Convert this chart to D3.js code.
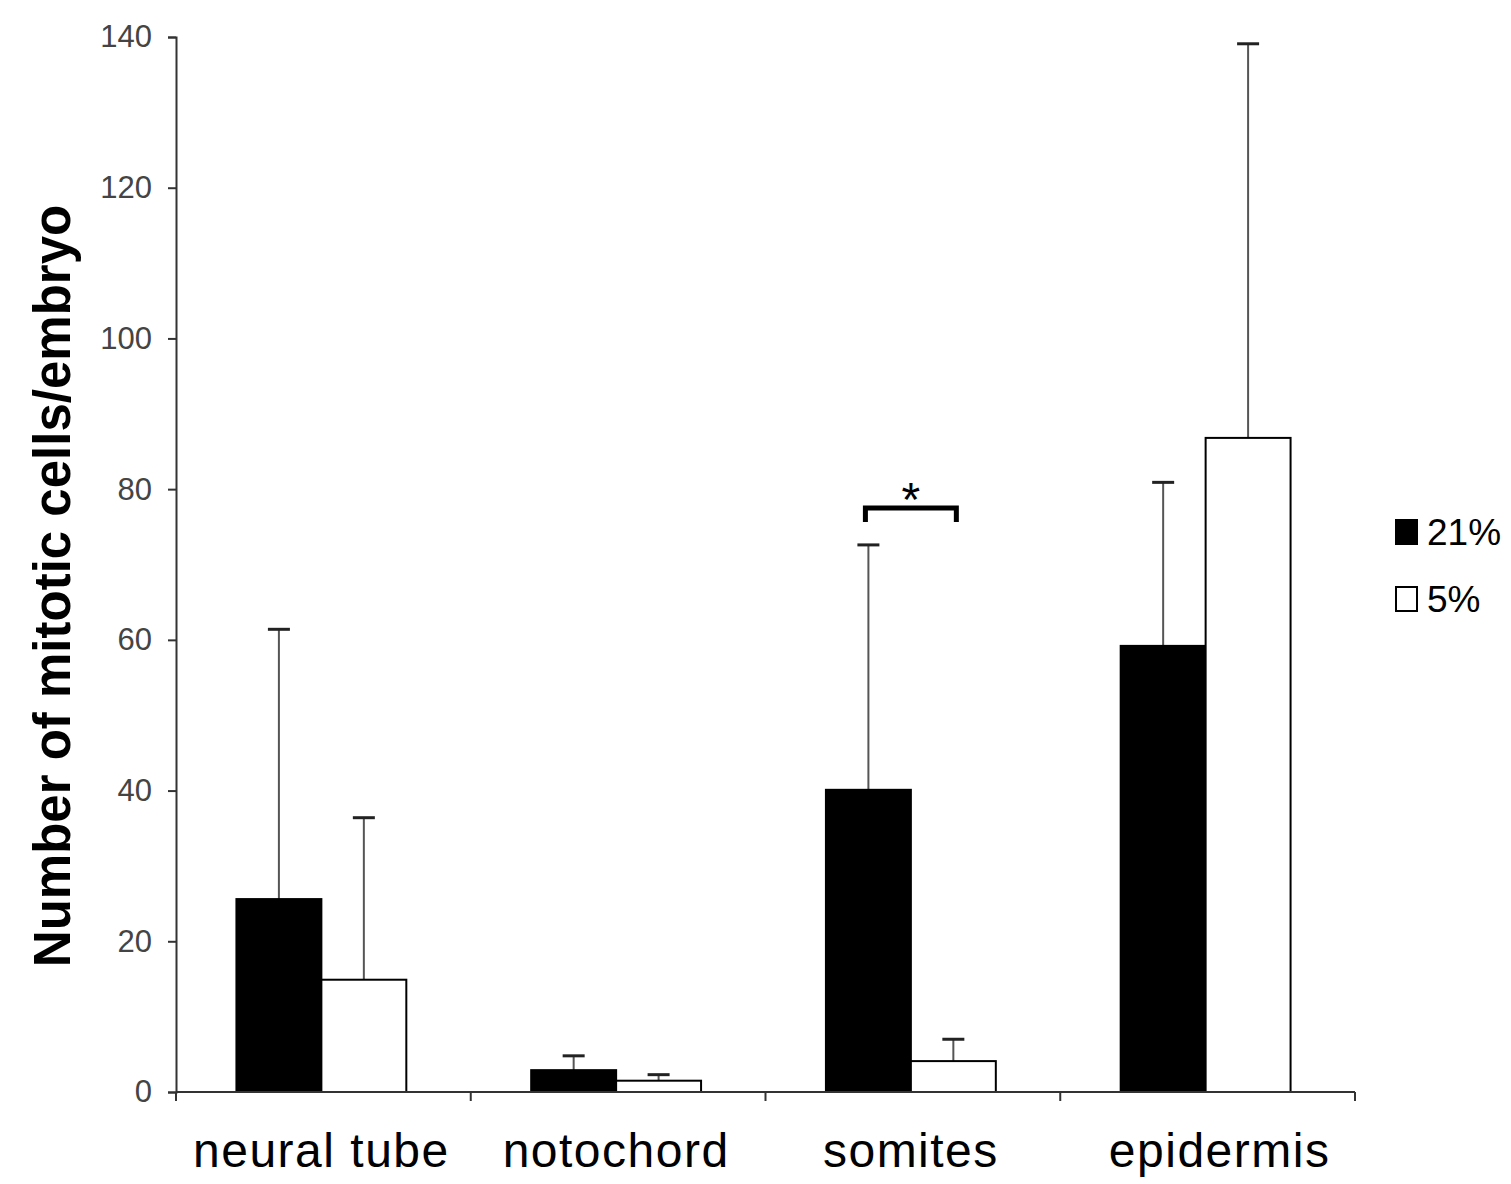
<!DOCTYPE html>
<html><head><meta charset="utf-8">
<script src="https://cdn.jsdelivr.net/npm/d3@7"></script>
<style>body{margin:0;background:#fff}svg{display:block}</style>
</head><body>
<script>
const categories = ["neural tube", "notochord", "somites", "epidermis"];
const seriesNames = ["21%", "5%"];
const mean21 = [25.6, 2.9, 40.1, 59.2];
const err21 = [61.4, 4.8, 72.6, 80.9];
const mean5 = [14.9, 1.5, 4.1, 86.8];
const err5 = [36.4, 2.3, 7.0, 139.1];
const yTicks = [0, 20, 40, 60, 80, 100, 120, 140];

const W = 1511, H = 1184;
const svg = d3.select("body").append("svg").attr("width", W).attr("height", H);
const x0 = 176, x1 = 1355, yTop = 37, yBot = 1092;

const x = d3.scaleBand().domain(categories).range([x0, x1]).paddingInner(0).paddingOuter(0);
const y = d3.scaleLinear().domain([0, 140]).range([yBot, yTop]);
const inner = d3.scaleBand().domain(seriesNames).range([-2, x.bandwidth() - 2]).paddingInner(0).paddingOuter(0.735);

const data = [];
categories.forEach((c, i) => {
  data.push({c, s: "21%", v: mean21[i], e: err21[i]});
  data.push({c, s: "5%", v: mean5[i], e: err5[i]});
});

// error bars
const eg = svg.append("g");
data.forEach(d => {
  const cx = x(d.c) + inner(d.s) + inner.bandwidth() / 2;
  eg.append("line").attr("x1", cx).attr("x2", cx).attr("y1", y(d.v)).attr("y2", y(d.e))
    .attr("stroke", "#555").attr("stroke-width", 2);
  eg.append("line").attr("x1", cx - 11).attr("x2", cx + 11).attr("y1", y(d.e)).attr("y2", y(d.e))
    .attr("stroke", "#222").attr("stroke-width", 3);
});

// bars
svg.append("g").selectAll("rect").data(data).join("rect")
  .attr("x", d => x(d.c) + inner(d.s))
  .attr("y", d => y(d.v))
  .attr("width", inner.bandwidth())
  .attr("height", d => y(0) - y(d.v))
  .attr("fill", d => d.s === "21%" ? "#000" : "#fff")
  .attr("stroke", "#000").attr("stroke-width", 2);

// y axis
const ya = svg.append("g").attr("transform", `translate(${x0},0)`)
  .call(d3.axisLeft(y).tickValues(yTicks).tickSize(8).tickPadding(16));
ya.select(".domain").attr("stroke", "#333").attr("stroke-width", 2);
ya.selectAll(".tick line").attr("stroke", "#333").attr("stroke-width", 2);
ya.selectAll("text").attr("font-family", "Arial, Liberation Sans, sans-serif")
  .attr("font-size", 31).attr("fill", "#444");

// x axis
const xa = svg.append("g").attr("transform", `translate(0,${yBot})`);
xa.append("line").attr("x1", x0).attr("x2", x1).attr("y1", 0).attr("y2", 0)
  .attr("stroke", "#333").attr("stroke-width", 2);
const bounds = categories.map(c => x(c)).concat([x1]);
xa.selectAll(".bt").data(bounds).join("line").attr("class", "bt")
  .attr("x1", d => d).attr("x2", d => d).attr("y1", 0).attr("y2", 9)
  .attr("stroke", "#333").attr("stroke-width", 2);
xa.selectAll(".cl").data(categories).join("text").attr("class", "cl")
  .attr("x", (d, i) => x(d) + x.bandwidth() / 2 + (i === 3 ? 12 : -2)).attr("y", 75)
  .attr("text-anchor", "middle")
  .attr("font-family", "Arial, Liberation Sans, sans-serif")
  .attr("letter-spacing", 1.5)
  .attr("font-size", 48).attr("fill", "#000").text(d => d);

// y axis title
svg.append("text")
  .attr("transform", `translate(70,586) rotate(-90)`)
  .attr("text-anchor", "middle")
  .attr("font-family", "Liberation Sans Narrow, Arial Narrow, Arial, sans-serif")
  .attr("font-weight", "bold").attr("font-size", 51).attr("fill", "#000")
  .text("Number of mitotic cells/embryo");

// significance bracket on somites
const sx1 = x("somites") + inner("21%") + inner.bandwidth() / 2 - 3;
const sx2 = x("somites") + inner("5%") + inner.bandwidth() / 2 + 3;
const by = y(77.5);
svg.append("path")
  .attr("d", `M${sx1},${by + 14}V${by}H${sx2}V${by + 14}`)
  .attr("fill", "none").attr("stroke", "#000").attr("stroke-width", 5);
svg.append("text").attr("x", (sx1 + sx2) / 2).attr("y", by + 8)
  .attr("text-anchor", "middle").attr("font-family", "Arial, Liberation Sans, sans-serif")
  .attr("font-size", 48).attr("fill", "#000").text("*");

// legend
const lg = svg.append("g").attr("transform", "translate(1395,519)");
seriesNames.forEach((s, i) => {
  const g = lg.append("g").attr("transform", `translate(0,${i * 67})`);
  g.append("rect").attr("x", 1).attr("y", 1).attr("width", 21).attr("height", 24)
    .attr("fill", i === 0 ? "#000" : "#fff").attr("stroke", "#000").attr("stroke-width", 2);
  g.append("text").attr("x", 32).attr("y", 26)
    .attr("font-family", "Arial, Liberation Sans, sans-serif")
    .attr("font-size", 37).attr("fill", "#000").text(s);
});
</script>
</body></html>
